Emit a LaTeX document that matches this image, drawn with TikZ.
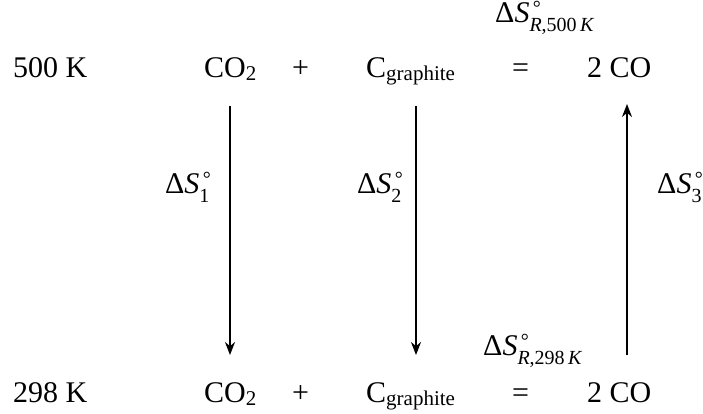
\documentclass[tikz,border=0pt]{standalone}
\usepackage{fontspec}
\setmainfont{Liberation Serif}
\usetikzlibrary{arrows.meta}
\newcommand{\smallsub}[1]{\raisebox{-0.13em}{\fontsize{21}{21}\selectfont #1}}
\newcommand{\lowsub}[1]{\raisebox{-0.3em}{\fontsize{20}{20}\selectfont #1}}
\newcommand{\dSo}[1]{Δ\textit{S}\makebox[0pt][l]{\raisebox{0.26em}{\smash{\fontsize{20}{20}\selectfont\,°}}}\lowsub{\smash{#1}}}
\tikzset{
  flowarrow/.style={-{Stealth[length=13pt,width=10pt]}, line width=1.6pt},
  species/.style={anchor=base west, inner sep=0pt, font=\fontsize{30}{36}\selectfont},
  steplabel/.style={anchor=base west, inner sep=0pt, font=\fontsize{30}{36}\selectfont}
}

\begin{document}
\begin{tikzpicture}[x=1pt, y=-1pt]
      \useasboundingbox (0,0) rectangle (703,413);
      % 500 K row
      \node[species] (thot) at (13,77) {500 K};
      \node[species] (cohot) at (204,77) {CO\smallsub{2}};
      \node[species] (plushot) at (292,77) {+};
      \node[species] (chot) at (366,77) {C\smallsub{graphite}};
      \node[species] (eqhot) at (512,77) {=};
      \node[species] (prodhot) at (587,77) {2 CO};
      \node[steplabel] (srhot) at (495,22) {\dSo{\textit{R},500\,\textit{K}}};
      % 298 K row
      \node[species] (tcold) at (13,402) {298 K};
      \node[species] (cocold) at (204,402) {CO\smallsub{2}};
      \node[species] (pluscold) at (292,402) {+};
      \node[species] (ccold) at (366,402) {C\smallsub{graphite}};
      \node[species] (eqcold) at (512,402) {=};
      \node[species] (prodcold) at (587,402) {2 CO};
      \node[steplabel] (srcold) at (483,355) {\dSo{\textit{R},298\,\textit{K}}};
      % steps
      \coordinate (up1) at (230,106);   \coordinate (dn1) at (230,355);
      \coordinate (up2) at (416,106);   \coordinate (dn2) at (416,355);
      \coordinate (up3) at (627,104);   \coordinate (dn3) at (627,355);
      \draw[flowarrow] (up1) -- (dn1);
      \draw[flowarrow] (up2) -- (dn2);
      \draw[flowarrow] (dn3) -- (up3);
      \node[steplabel] (s1) at (165,193) {\dSo{1}};
      \node[steplabel] (s2) at (357,193) {\dSo{2}};
      \node[steplabel] (s3) at (657,193) {\dSo{3}};
\end{tikzpicture}
\end{document}
